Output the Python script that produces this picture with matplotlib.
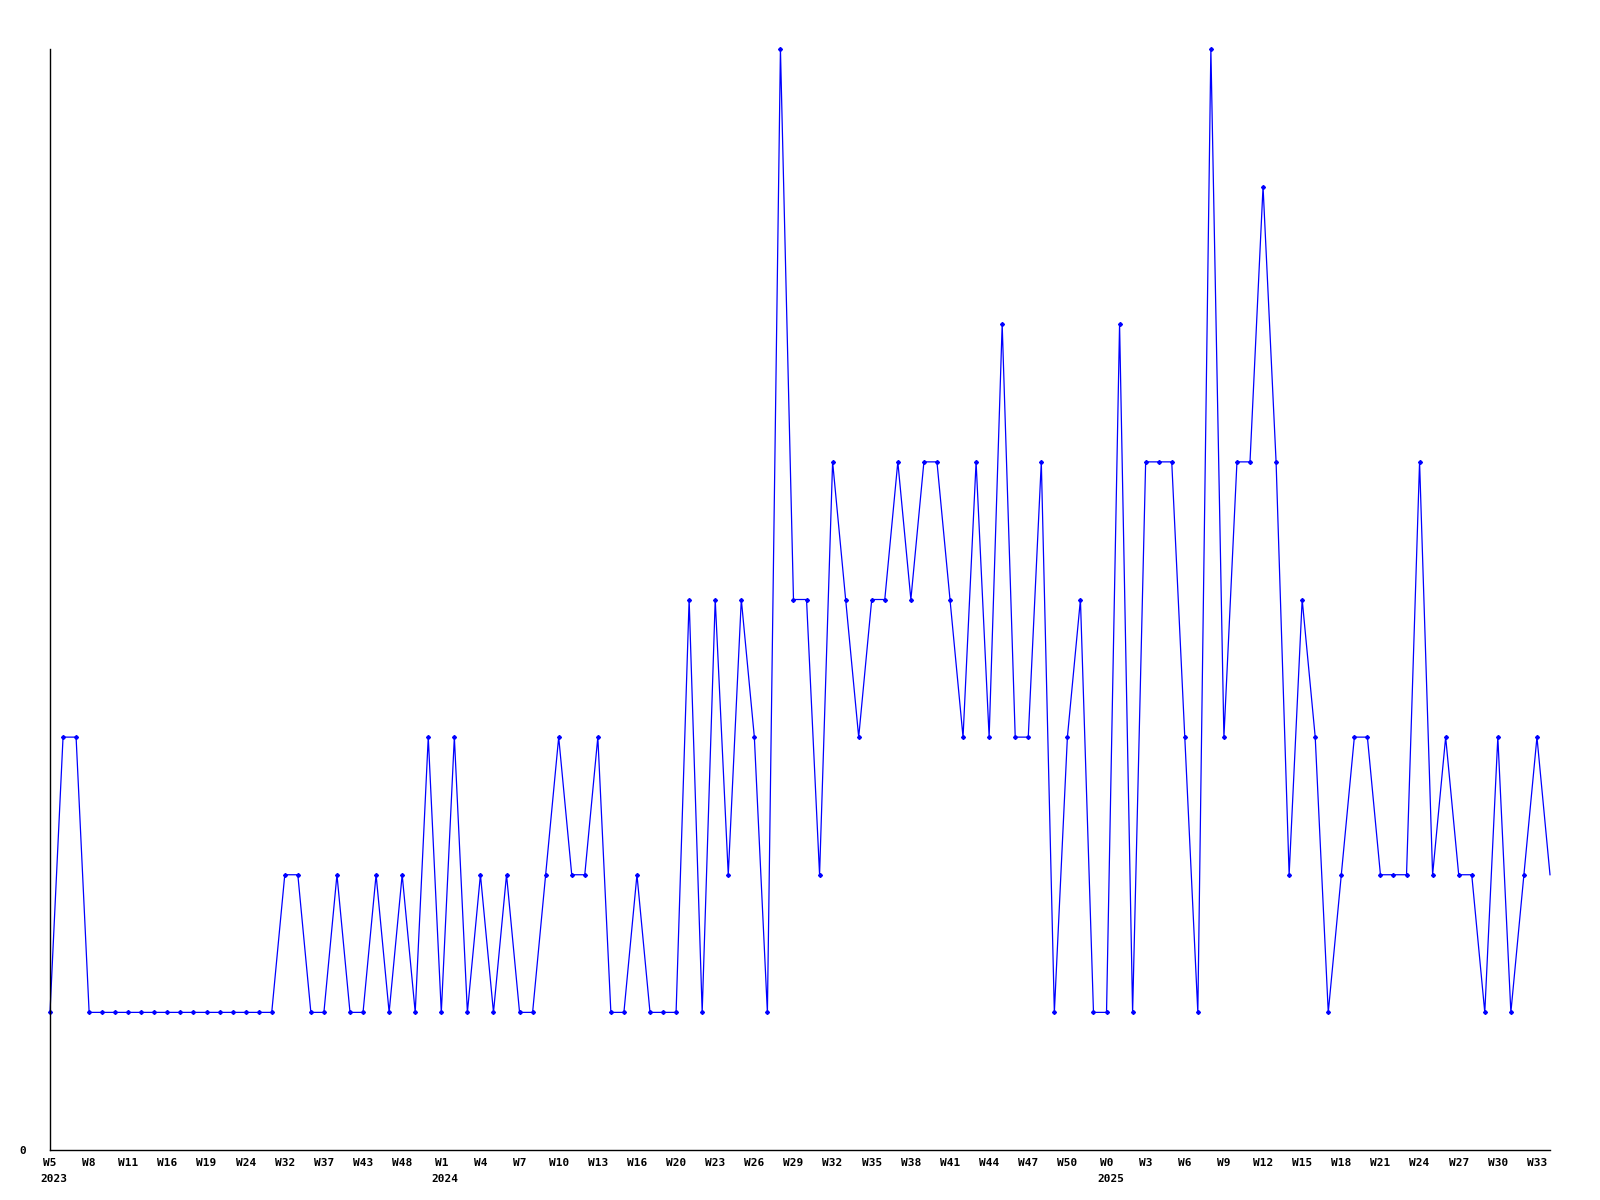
import matplotlib
matplotlib.use("Agg")
import matplotlib.pyplot as plt

values = [1, 3, 3, 1,
          1, 1, 1, 1, 1, 1, 1, 1, 1, 1, 1, 1, 1, 1,
          2, 2, 1, 1, 2, 1, 1, 2, 1, 2, 1, 3, 1, 3, 1, 2, 1, 2, 1, 1,
          2, 3, 2, 2, 3, 1, 1, 2, 1, 1, 1, 4, 1, 4, 2, 4, 3, 1,
          8, 4, 4, 2, 5, 4, 3, 4, 4, 5, 4, 5, 5, 4, 3, 5, 3, 6, 3, 3, 5, 1,
          3, 4, 1, 1, 6, 1, 5, 5, 5, 3, 1, 8, 3, 5, 5, 7, 5, 2, 4, 3, 1, 2, 3, 3,
          2, 2, 2, 5, 2, 3, 2, 2, 1, 3, 1, 2, 3, 2]

tick_labels = ["W5", "W8", "W11", "W16", "W19", "W24", "W32", "W37", "W43", "W48",
               "W1", "W4", "W7", "W10", "W13", "W16", "W20", "W23", "W26", "W29",
               "W32", "W35", "W38", "W41", "W44", "W47", "W50",
               "W0", "W3", "W6", "W9", "W12", "W15", "W18", "W21", "W24", "W27",
               "W30", "W33"]
tick_step = 3
year_labels = {0: "2023", 10: "2024", 27: "2025"}  # index into tick_labels

FONT = dict(family="DejaVu Sans Mono", weight="bold", size=8)

fig = plt.figure(figsize=(16, 12), dpi=100)
ax = fig.add_axes([50 / 1600, 1 - 1150 / 1200, 1500 / 1600, 1101 / 1200])

x = list(range(len(values)))
ax.plot(x, values, color="#0000ff", lw=0.9, marker="D", markersize=2.0,
        markevery=list(range(len(values) - 1)), clip_on=False)

ax.set_xlim(0, len(values) - 1)
ax.set_ylim(0, 8)

ticks = list(range(0, len(values), tick_step))[:len(tick_labels)]
ax.set_xticks(ticks)
ax.set_xticklabels(tick_labels, fontdict=FONT)
ax.set_yticks([0])
ax.set_yticklabels(["0"], fontdict=FONT)
ax.tick_params(axis="x", length=0, pad=6)
ax.tick_params(axis="y", length=0, pad=17)

for k, yr in year_labels.items():
    lbl = tick_labels[k]
    off = -len(lbl) * 0.602 * 8 / 2 - 2
    ax.annotate(yr, xy=(ticks[k], 0), xycoords=("data", "axes fraction"),
                xytext=(off, -17.5), textcoords="offset points",
                ha="left", va="top", **FONT)

for s in ["top", "right"]:
    ax.spines[s].set_visible(False)
for s in ["left", "bottom"]:
    ax.spines[s].set_color("black")
    ax.spines[s].set_linewidth(1)

fig.savefig("out.png", dpi=100, facecolor="white")
